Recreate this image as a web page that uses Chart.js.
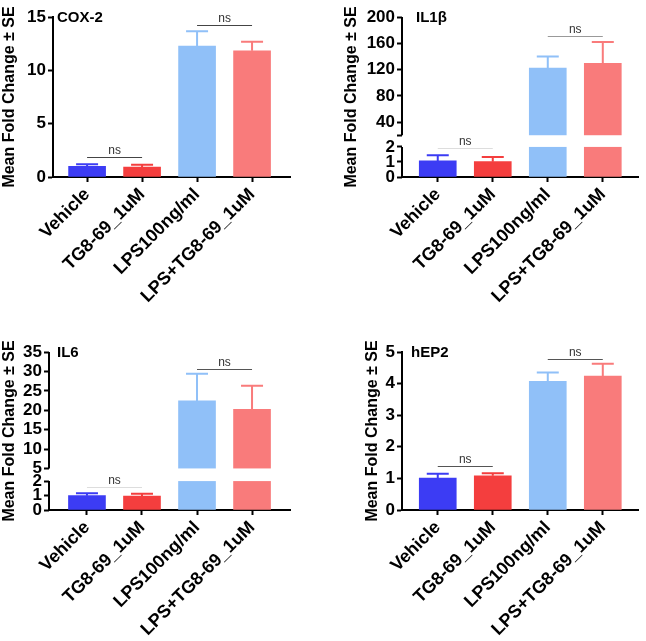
<!DOCTYPE html>
<html>
<head>
<meta charset="utf-8">
<script src="https://cdn.jsdelivr.net/npm/chart.js@4.4.1/dist/chart.umd.min.js"></script>
<style>
  body { margin: 0; background: #fff; }
  #wrap { position: relative; width: 646px; height: 641px; }
  canvas { position: absolute; }
</style>
</head>
<body>
<div id="wrap">
  <canvas id="c1" width="323" height="320" style="left:0;top:0"></canvas>
  <canvas id="c2" width="323" height="320" style="left:323px;top:0"></canvas>
  <canvas id="c3" width="323" height="321" style="left:0;top:320px"></canvas>
  <canvas id="c4" width="323" height="321" style="left:323px;top:320px"></canvas>
</div>
<script>
const categories = ['Vehicle', 'TG8-69_1uM', 'LPS100ng/ml', 'LPS+TG8-69_1uM'];
const barColors = ['#3c3cf4', '#f43e3e', '#90c0f8', '#f97b7b'];

// mean fold change and SE
const coxMean = [1.0, 0.94, 12.28, 11.84];
const coxSE = [0.19, 0.22, 1.38, 0.85];
const coxNs = [[0, 1, 1.88], [2, 3, 14.28]];
const coxTicks = [0, 5, 10, 15];

const il1bMean = [1.07, 1.02, 122.3, 129.4];
const il1bSE = [0.37, 0.31, 17.7, 32.5];
const il1bNs = [[0, 1, 1.93], [2, 3, 170.5]];
const il1bTicks = [0, 1, 2, 20, 40, 80, 120, 160, 200];
const il1bNoLabel = [20];

const il6Mean = [0.99, 0.97, 22.4, 20.2];
const il6SE = [0.16, 0.16, 7.0, 6.1];
const il6Ns = [[0, 1, 1.61], [2, 3, 30.7]];
const il6Ticks = [0, 1, 2, 5, 10, 15, 20, 25, 30, 35];

const hep2Mean = [1.01, 1.08, 4.07, 4.24];
const hep2SE = [0.14, 0.08, 0.28, 0.39];
const hep2Ns = [[0, 1, 1.4], [2, 3, 4.79]];
const hep2Ticks = [0, 1, 2, 3, 4, 5];

Chart.defaults.color = '#000';
Chart.defaults.font.family = 'Arial, "Liberation Sans", sans-serif';

// linear scale with a gap (broken y axis)
class BrokenLinear extends Chart.LinearScale {
  getPixelForValue(v) {
    const b = this.options.brk;
    const upFrac = 1 - b.lowFrac - b.gapFrac;
    let d;
    if (v <= b.low) d = v / b.low * b.lowFrac;
    else if (v >= b.high) d = b.lowFrac + b.gapFrac + (v - b.high) / (this.max - b.high) * upFrac;
    else d = b.lowFrac + (v - b.low) / (b.high - b.low) * b.gapFrac;
    return this.getPixelForDecimal(d);
  }
  getValueForPixel(p) {
    const b = this.options.brk;
    const d = this.getDecimalForPixel(p);
    const upFrac = 1 - b.lowFrac - b.gapFrac;
    if (d <= b.lowFrac) return d / b.lowFrac * b.low;
    if (d >= b.lowFrac + b.gapFrac) return b.high + (d - b.lowFrac - b.gapFrac) / upFrac * (this.max - b.high);
    return b.low + (d - b.lowFrac) / b.gapFrac * (b.high - b.low);
  }
}
BrokenLinear.id = 'brokenLinear';
BrokenLinear.defaults = {};
Chart.register(BrokenLinear);

function panelPlugin(p) {
  return {
    id: 'panel',
    afterDatasetsDraw(chart) {
      const { ctx, chartArea: a, scales: { y } } = chart;
      ctx.save();
      if (p.brk) {
        const pLow = y.getPixelForValue(p.brk.low);
        const pHigh = y.getPixelForValue(p.brk.high);
        ctx.fillStyle = '#fff';
        ctx.fillRect(a.left + 1, pHigh, a.right - a.left, pLow - pHigh);
        ctx.strokeStyle = '#000';
        ctx.lineWidth = 2;
        ctx.beginPath();
        ctx.moveTo(a.left, y.getPixelForValue(0) + 1);
        ctx.lineTo(a.left, pLow);
        ctx.moveTo(a.left, pHigh);
        ctx.lineTo(a.left, y.getPixelForValue(y.max));
        ctx.stroke();
      }
      // error bars (upper half only)
      const meta = chart.getDatasetMeta(0);
      meta.data.forEach((bar, i) => {
        const top = y.getPixelForValue(p.mean[i] + p.se[i]);
        ctx.strokeStyle = barColors[i];
        ctx.lineWidth = 2;
        ctx.beginPath();
        ctx.moveTo(bar.x, bar.y);
        ctx.lineTo(bar.x, top);
        ctx.moveTo(bar.x - 11, top);
        ctx.lineTo(bar.x + 11, top);
        ctx.stroke();
      });
      // ns brackets
      p.ns.forEach(([i, j, lvl], k) => {
        const x1 = meta.data[i].x, x2 = meta.data[j].x;
        const yy = Math.round(y.getPixelForValue(lvl)) + 0.5;
        ctx.strokeStyle = p.nsColors[k];
        ctx.lineWidth = 1;
        ctx.beginPath();
        ctx.moveTo(x1, yy);
        ctx.lineTo(x2, yy);
        ctx.stroke();
        ctx.fillStyle = '#333';
        ctx.font = '12px Arial, "Liberation Sans"';
        ctx.textAlign = 'center';
        ctx.textBaseline = 'bottom';
        ctx.fillText('ns', (x1 + x2) / 2, yy - 1);
      });
      // panel title
      ctx.fillStyle = '#000';
      ctx.font = 'bold 15px Arial, "Liberation Sans"';
      ctx.textAlign = 'left';
      ctx.textBaseline = 'middle';
      ctx.fillText(p.title, a.left + p.titleDx, a.top + 1);
      ctx.restore();
    }
  };
}

function makePanel(id, p) {
  const canvas = document.getElementById(id);
  const H = canvas.height, W = canvas.width;
  const yScale = {
    type: p.brk ? 'brokenLinear' : 'linear',
    min: 0,
    max: p.yMax,
    afterBuildTicks: s => { s.ticks = p.ticks.map(v => ({ value: v })); },
    afterFit: s => { s.width = p.axisX - p.padLeft; },
    ticks: {
      autoSkip: false,
      padding: 2,
      font: { size: 17, weight: 'bold' },
      callback: v => (p.noLabel && p.noLabel.includes(v)) ? '' : v
    },
    grid: { drawOnChartArea: false, drawTicks: true, tickLength: 5, tickWidth: 2, color: '#000' },
    border: { display: !p.brk, color: '#000', width: 2 },
    title: {
      display: true,
      text: 'Mean Fold Change ± SE',
      font: { size: 16, weight: 'bold' },
      padding: 0
    }
  };
  if (p.brk) yScale.brk = p.brk;

  return new Chart(canvas, {
    type: 'bar',
    data: {
      datasets: [{
        data: categories.map((c, i) => ({ x: i, y: p.mean[i] })),
        backgroundColor: barColors,
        borderWidth: 0,
        barThickness: 37
      }]
    },
    options: {
      responsive: false,
      animation: false,
      layout: { padding: { left: p.padLeft, top: p.top, right: W - p.right, bottom: 0 } },
      plugins: { legend: { display: false }, tooltip: { enabled: false } },
      scales: {
        x: {
          type: 'linear',
          min: p.xMin,
          max: p.xMax,
          offset: false,
          afterBuildTicks: s => { s.ticks = categories.map((c, i) => ({ value: i })); },
          afterFit: s => { s.height = H - p.bottom; },
          ticks: {
            autoSkip: false,
            minRotation: 45,
            maxRotation: 45,
            padding: 2,
            font: { size: 18, weight: 'bold' },
            callback: v => categories[v]
          },
          grid: { drawOnChartArea: false, drawTicks: true, tickLength: 5, tickWidth: 2, color: '#000', offset: false },
          border: { display: true, color: '#000', width: 2 }
        },
        y: yScale
      }
    },
    plugins: [panelPlugin(p)]
  });
}

makePanel('c1', {
  title: 'COX-2', titleDx: 4, mean: coxMean, se: coxSE, ns: coxNs, nsColors: ['#444', '#444'],
  ticks: coxTicks, yMax: 15,
  padLeft: 0, axisX: 53, top: 17, bottom: 177, right: 290, xMin: -0.62, xMax: 3.69
});
makePanel('c2', {
  title: 'IL1β', titleDx: 14, mean: il1bMean, se: il1bSE, ns: il1bNs, nsColors: ['#ddd', '#999'],
  ticks: il1bTicks, noLabel: il1bNoLabel, yMax: 200,
  brk: { low: 2, high: 20, lowFrac: 0.188, gapFrac: 0.073 },
  padLeft: 19, axisX: 79, top: 17, bottom: 177, right: 315, xMin: -0.65, xMax: 3.64
});
makePanel('c3', {
  title: 'IL6', titleDx: 8, mean: il6Mean, se: il6SE, ns: il6Ns, nsColors: ['#ddd', '#555'],
  ticks: il6Ticks, yMax: 35,
  brk: { low: 2, high: 5, lowFrac: 0.183, gapFrac: 0.08 },
  padLeft: 0, axisX: 49, top: 32, bottom: 190, right: 290, xMin: -0.69, xMax: 3.69
});
makePanel('c4', {
  title: 'hEP2', titleDx: 9, mean: hep2Mean, se: hep2SE, ns: hep2Ns, nsColors: ['#555', '#555'],
  ticks: hep2Ticks, yMax: 5,
  padLeft: 40, axisX: 79, top: 32, bottom: 190, right: 315, xMin: -0.65, xMax: 3.64
});
</script>
</body>
</html>
